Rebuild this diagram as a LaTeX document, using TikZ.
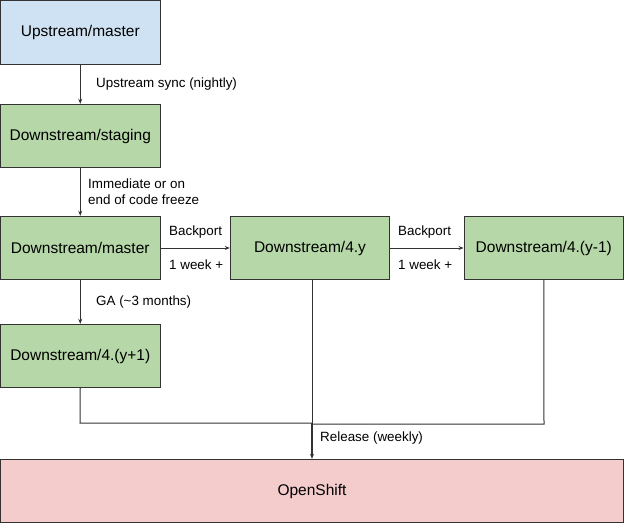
\documentclass[tikz,border=0pt]{standalone}
\usepackage{fontspec}
\setmainfont{Liberation Sans}
\usetikzlibrary{arrows.meta}
\definecolor{upblue}{HTML}{CFE2F3}
\definecolor{dgreen}{HTML}{B6D7A8}
\definecolor{ospink}{HTML}{F4CCCC}
\definecolor{edge}{HTML}{333333}
\begin{document}
\begin{tikzpicture}[x=1pt,y=-1pt,
  box/.style={draw=edge,line width=0.9pt,minimum width=159.5pt,minimum height=63.5pt,inner sep=0pt,font=\fontsize{15.5}{18}\selectfont},
  lbl/.style={anchor=west,inner sep=0pt,font=\fontsize{13.4}{16}\selectfont,align=left},
  conn/.style={draw=edge,line width=1pt},
  arr/.style={conn,-{Stealth[length=5pt,width=4pt]}}]
\useasboundingbox (0,0) rectangle (624,524);
\node[box,fill=upblue] (up) at (80.25,32.25) {Upstream/master};
\node[box,fill=dgreen] (stg) at (80.25,136) {Downstream/staging};
\node[box,fill=dgreen] (dm) at (80.25,248) {Downstream/master};
\node[box,fill=dgreen] (d4y) at (310,248) {Downstream/4.y};
\node[box,fill=dgreen] (d4ym) at (543.75,248) {Downstream/4.(y-1)};
\node[box,fill=dgreen] (d4yp) at (80.25,356) {Downstream/4.(y+1)};
\node[box,fill=ospink,minimum width=623pt] (os) at (312,491) {OpenShift};
\draw[arr] (up) -- (stg);
\draw[arr] (stg) -- (dm);
\draw[arr] (dm) -- (d4yp);
\draw[arr] (dm) -- (d4y);
\draw[arr] (d4y) -- (d4ym);
\coordinate (jl) at (80,423);
\coordinate (jm) at (312,423);
\coordinate (jr) at (544,424);
\draw[conn] (d4yp.south) -- (jl) -- (jm);
\draw[conn] (d4ym.south) -- (jr) -- (312,424);
\draw[conn] (d4y.south -| jm) -- (jm);
\draw[arr,line width=1.6pt] (jm) -- (os.north -| jm);
\node[lbl] (l1) at (96,84) {Upstream sync (nightly)};
\node[lbl] (l2) at (88,192) {Immediate or on\\end of code freeze};
\node[lbl] (l3) at (96,302) {GA (\textasciitilde3 months)};
\node[lbl] (l4) at (169,232) {Backport};
\node[lbl] (l5) at (169,265) {1 week +};
\node[lbl] (l6) at (398,232) {Backport};
\node[lbl] (l7) at (398,265) {1 week +};
\node[lbl] (l8) at (320,438) {Release (weekly)};
\end{tikzpicture}
\end{document}
